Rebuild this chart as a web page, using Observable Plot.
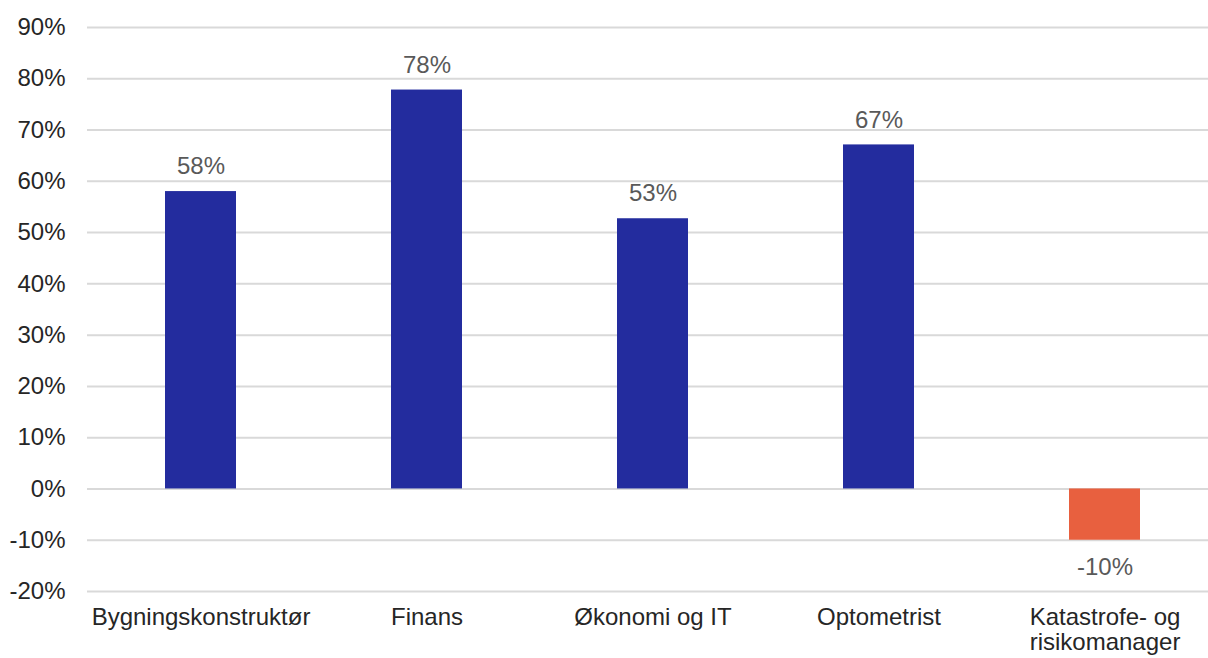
<!DOCTYPE html>
<html>
<head>
<meta charset="utf-8">
<script src="https://cdn.jsdelivr.net/npm/d3@7"></script>
<script src="https://cdn.jsdelivr.net/npm/@observablehq/plot@0.6"></script>
<style>
  html, body { margin: 0; padding: 0; background: #fff; overflow: hidden; }
  svg { display: block; }
</style>
</head>
<body>
<div id="chart"></div>
<script>
const categories = ["Bygningskonstruktør", "Finans", "Økonomi og IT", "Optometrist", "Katastrofe- og risikomanager"];
const values = [58.0, 77.8, 52.7, 67.1, -10.0];
const yTicks = [-20, -10, 0, 10, 20, 30, 40, 50, 60, 70, 80, 90];

const data = categories.map((c, i) => ({category: c, value: values[i]}));

const chart = Plot.plot({
  width: 1208,
  height: 658,
  marginLeft: 87,
  marginRight: 0,
  marginTop: 27,
  marginBottom: 67,
  style: {fontFamily: "'Liberation Sans', Arial, sans-serif", fontSize: "24px", background: "#fff"},
  x: {domain: categories, range: [87, 1218], paddingInner: 0.686, paddingOuter: 0.343, label: null},
  y: {domain: [-20, 90], ticks: yTicks, label: null},
  marks: [
    Plot.ruleY(yTicks, {stroke: "#d9d9d9", strokeWidth: 2}),
    Plot.barY(data, {x: "category", y: "value", fill: d => d.value < 0 ? "#e8603f" : "#232c9e"}),
    Plot.text(data.filter(d => d.value >= 0), {x: "category", y: "value", text: d => Math.round(d.value) + "%", dy: -25, fill: "#595959", fontSize: 24}),
    Plot.text(data.filter(d => d.value < 0), {x: "category", y: "value", text: d => Math.round(d.value) + "%", dy: 27, fill: "#595959", fontSize: 24}),
    Plot.axisY({ticks: yTicks, tickSize: 0, tickPadding: 22, tickFormat: d => d + "%", fill: "#262626", fontSize: 24}),
    Plot.axisX({tickSize: 0, tickPadding: 16, fill: "#262626", fontSize: 24, lineHeight: 1.04,
      tickFormat: d => d.replace(" risikomanager", "\nrisikomanager")})
  ]
});
chart.querySelectorAll("text").forEach(t => t.style.fontSize = "24px");
document.getElementById("chart").appendChild(chart);
</script>
</body>
</html>
